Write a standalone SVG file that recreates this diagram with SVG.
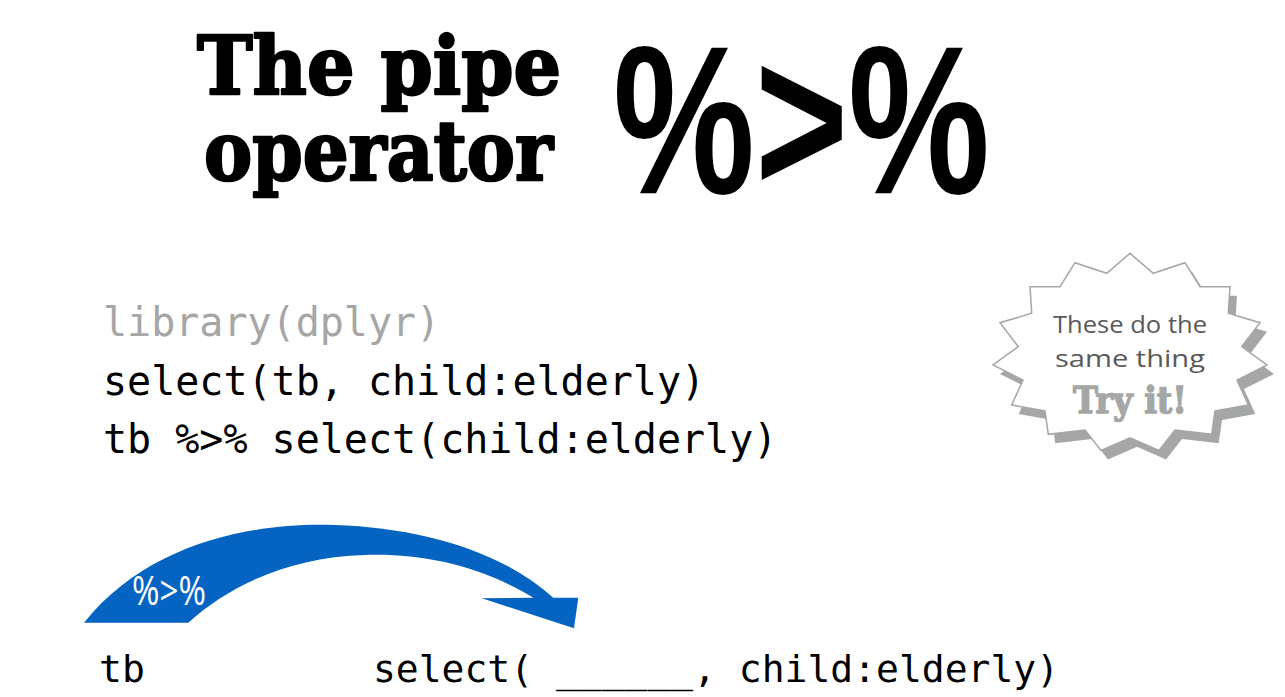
<svg xmlns="http://www.w3.org/2000/svg" width="1285" height="697" viewBox="0 0 1285 697">
<style>
.title{font-family:"DejaVu Serif","Liberation Serif",serif;font-weight:bold;fill:#000;stroke:#000;stroke-width:2.5;stroke-linejoin:round}
.pct{font-family:"Liberation Sans","DejaVu Sans",sans-serif;font-weight:bold;fill:#000}
.code{font-family:"DejaVu Sans Mono","Liberation Mono",monospace;font-size:40px;fill:#000}
.code2{font-family:"DejaVu Sans Mono","Liberation Mono",monospace;font-size:38px;fill:#000}
.burst{font-family:"Open Sans","Noto Sans",sans-serif;font-size:24px;fill:#595959}
.try{font-family:"DejaVu Serif","Liberation Serif",serif;font-weight:bold;font-size:37px;fill:#a5a7a6;stroke:#a5a7a6;stroke-width:1.5;stroke-linejoin:round}
</style>
<defs>
<polygon id="star" points="1130,253.3 1153.3,273.3 1185,262.7 1200,286.7 1230,286.7 1228.3,313.3 1260,322.7 1241.7,346.7 1267,365 1237,380 1248.3,405 1215,411 1211.7,434.3 1175,430 1159,450.5 1130,437.7 1101,450.5 1085,430 1048.3,434.3 1045,411 1011.7,405 1023,380 993,365 1018.3,346.7 1000,322.7 1031.7,313.3 1030,286.7 1060,286.7 1075,262.7 1106.7,273.3"/>
</defs>
<rect width="1285" height="697" fill="#fff"/>

<g id="title">
<text class="title" x="197" y="94" font-size="80" textLength="364" lengthAdjust="spacingAndGlyphs">The pipe</text>
<text class="title" x="204" y="180" font-size="82" textLength="349" lengthAdjust="spacingAndGlyphs">operator</text>
<text class="pct" x="613" y="193" font-size="212" textLength="377" lengthAdjust="spacingAndGlyphs">%&gt;%</text>
</g>

<g id="code">
<text class="code" x="103" y="336" style="fill:#a6a6a6">library(dplyr)</text>
<text class="code" x="103" y="395">select(tb, child:elderly)</text>
<text class="code" x="103" y="453">tb %&gt;% select(child:elderly)</text>
</g>

<g id="burst">
<use href="#star" transform="translate(7,9)" fill="#a5a7a6"/>
<use href="#star" fill="#fff" stroke="#a6a6a6" stroke-width="1.5"/>
<text class="burst" x="1053" y="333" textLength="154" lengthAdjust="spacingAndGlyphs">These do the</text>
<text class="burst" x="1055" y="367" textLength="150" lengthAdjust="spacingAndGlyphs">same thing</text>
<text class="try" x="1073" y="413" textLength="114" lengthAdjust="spacingAndGlyphs">Try it!</text>
</g>

<g id="connectors">
<path d="M84,622.7 C150,540 260,522 335,525 C420,528 500,550 553.3,597.7 L578.3,597.7 L574,628.3 L481.7,598.3 L533.3,597.7 C480,565 420,553 365,555 C290,557 230,585 188.3,622.7 Z" fill="#0563c1"/>
<text x="132" y="605" font-family="Open Sans,Noto Sans,sans-serif" font-size="40" fill="#fff" textLength="74" lengthAdjust="spacingAndGlyphs">%&gt;%</text>
</g>

<g id="bottom">
<text class="code2" x="99" y="682">tb</text>
<text class="code2" x="373" y="682" textLength="686" lengthAdjust="spacingAndGlyphs">select( ______, child:elderly)</text>
</g>
</svg>
